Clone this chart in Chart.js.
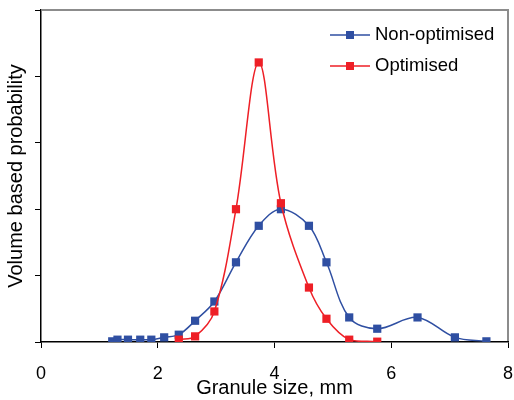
<!DOCTYPE html>
<html>
<head>
<meta charset="utf-8">
<script src="https://cdn.jsdelivr.net/npm/chart.js@4"></script>
<style>
  html, body { margin: 0; padding: 0; background: #fff; }
  #wrap { position: relative; width: 514px; height: 400px; }
  #frame { position: absolute; box-sizing: border-box; border-top: 2px solid #8c8c8c; border-right: 2px solid #8c8c8c; pointer-events: none; }
</style>
</head>
<body>
<div id="wrap"><canvas id="chart" width="514" height="400"></canvas><div id="frame"></div></div>
<script>
// --- Data ---
const seriesNames = ['Non-optimised', 'Optimised'];
const nonOptX = [1.22, 1.31, 1.49, 1.70, 1.89, 2.11, 2.36, 2.64, 2.97, 3.34, 3.73, 4.11, 4.59, 4.89, 5.28, 5.76, 6.45, 7.09, 7.63];
const nonOptY = [0.01, 0.035, 0.035, 0.035, 0.035, 0.07, 0.11, 0.32, 0.61, 1.20, 1.75, 2.00, 1.75, 1.20, 0.37, 0.20, 0.37, 0.07, 0.01];
const optX = [2.36, 2.64, 2.97, 3.34, 3.73, 4.11, 4.59, 4.89, 5.28, 5.76];
const optY = [0.035, 0.085, 0.46, 2.00, 4.21, 2.09, 0.82, 0.35, 0.035, 0.005];
const xTicks = [0, 2, 4, 6, 8];

const BLUE = '#2f4fa2';
const RED = '#ee1f26';
const FONT = "'Liberation Sans', Arial, sans-serif";

const toPoints = (xs, ys) => xs.map((x, i) => ({ x, y: ys[i] }));

// legend drawn inside the plot: line + square marker + label
const legendPlugin = {
    id: 'inLegend',
    afterDraw(chart) {
        const ctx = chart.ctx;
        const rows = [35, 66];
        ctx.save();
        chart.data.datasets.forEach((ds, i) => {
            const y = rows[i];
            ctx.strokeStyle = ds.borderColor;
            ctx.lineWidth = 1.5;
            ctx.beginPath();
            ctx.moveTo(330, y);
            ctx.lineTo(370, y);
            ctx.stroke();
            ctx.fillStyle = ds.pointBackgroundColor;
            ctx.fillRect(346, y - 4, 8, 8);
            ctx.fillStyle = '#000';
            ctx.font = '18.5px ' + FONT;
            ctx.textBaseline = 'middle';
            ctx.fillText(ds.label, 375, y);
        });
        ctx.restore();
    }
};

const chart = new Chart(document.getElementById('chart'), {
    type: 'scatter',
    data: {
        datasets: [
            {
                label: seriesNames[0],
                data: toPoints(nonOptX, nonOptY),
                showLine: true,
                borderColor: BLUE,
                borderWidth: 1.5,
                pointBackgroundColor: BLUE,
                pointBorderColor: BLUE,
                pointBorderWidth: 0,
                pointStyle: 'rect',
                pointRadius: 5.8,
                tension: 0.35,
                order: 1
            },
            {
                label: seriesNames[1],
                data: toPoints(optX, optY),
                showLine: true,
                borderColor: RED,
                borderWidth: 1.5,
                pointBackgroundColor: RED,
                pointBorderColor: RED,
                pointBorderWidth: 0,
                pointStyle: 'rect',
                pointRadius: 5.8,
                tension: 0.35,
                order: 0
            }
        ]
    },
    options: {
        responsive: false,
        animation: false,
        layout: { padding: { top: 10, right: 6, left: 0, bottom: 0 } },
        plugins: {
            legend: { display: false },
            tooltip: { enabled: false }
        },
        scales: {
            x: {
                type: 'linear',
                min: 0,
                max: 8,
                afterBuildTicks: (scale) => { scale.ticks = xTicks.map(v => ({ value: v })); },
                afterFit: (scale) => {
                    scale.height = 58;
                    scale.paddingLeft = 0;
                    scale.paddingRight = 0;
                },
                ticks: { color: '#000', font: { family: FONT, size: 18 }, padding: 15 },
                grid: { drawOnChartArea: false, color: '#000', tickLength: 6, tickWidth: 1 },
                border: { color: '#000', width: 1.5 },
                title: {
                    display: true,
                    text: 'Granule size, mm',
                    color: '#000',
                    font: { family: FONT, size: 20 },
                    padding: { top: 0, bottom: 0 }
                }
            },
            y: {
                min: 0,
                max: 5,
                ticks: { display: false, stepSize: 1 },
                afterFit: (scale) => {
                    scale.width = 41;
                    scale.paddingTop = 0;
                    scale.paddingBottom = 0;
                },
                grid: { drawOnChartArea: false, color: '#000', tickLength: 6, tickWidth: 1 },
                border: { color: '#000', width: 1.5 },
                title: {
                    display: true,
                    text: 'Volume based probability',
                    color: '#000',
                    font: { family: FONT, size: 20 },
                    padding: { top: 4, bottom: 0 }
                }
            }
        }
    },
    plugins: [legendPlugin]
});

// grey top/right border of the plot area, placed from the chart's own area
const area = chart.chartArea;
const frame = document.getElementById('frame');
frame.style.left = (area.left + 1) + 'px';
frame.style.top = (area.top - 1) + 'px';
frame.style.width = (area.right - area.left) + 'px';
frame.style.height = (area.bottom - area.top) + 'px';
</script>
</body>
</html>
